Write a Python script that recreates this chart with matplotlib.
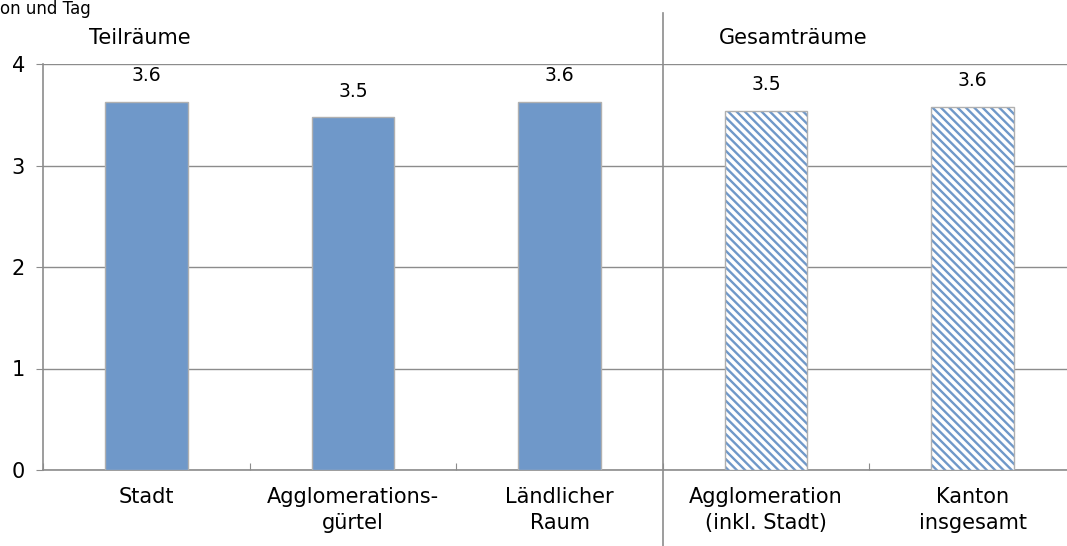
import numpy as np
import matplotlib.pyplot as plt

# data
categories = ["Stadt", "Agglomerations-\ngürtel", "Ländlicher\nRaum",
              "Agglomeration\n(inkl. Stadt)", "Kanton\ninsgesamt"]
values = [3.63, 3.48, 3.63, 3.54, 3.58]
value_labels = ["3.6", "3.5", "3.6", "3.5", "3.6"]
hatched = [False, False, False, True, True]
group_titles = ["Teilräume", "Gesamträume"]

BLUE = "#6f98c9"
GRAY = "#8c8c8c"

plt.rcParams['font.family'] = ['DejaVu Sans']
plt.rcParams['hatch.linewidth'] = 1.7

fig = plt.figure(figsize=(10.67, 5.46), dpi=100)
# right edge of the plot area lies beyond the image, as in the reference
ax = fig.add_axes([43/1067, 1-470/546, (1076-43)/1067, (470-64)/546])

x = np.arange(len(categories))
for xi, v, h in zip(x, values, hatched):
    if h:
        # hatch takes the edge colour, so draw the grey outline separately
        ax.bar(xi, v, width=0.4, facecolor="white", hatch="\\\\\\\\",
               edgecolor=BLUE, linewidth=0, zorder=3)
        ax.bar(xi, v, width=0.4, fill=False, edgecolor="#b0b0b0",
               linewidth=1, zorder=3)
    else:
        ax.bar(xi, v, width=0.4, color=BLUE, edgecolor="#b0b0b0",
               linewidth=1, zorder=3)

for xi, v, lab in zip(x, values, value_labels):
    ax.text(xi, v + 0.16, lab, ha="center", va="bottom", fontsize=13.5)

ax.set_xlim(-0.5, len(categories) - 0.5)
ax.set_ylim(0, 4)
ax.set_yticks([0, 1, 2, 3, 4])
ax.yaxis.grid(True, color=GRAY, linewidth=1)
ax.set_axisbelow(True)
ax.tick_params(axis="y", labelsize=15, length=5, color=GRAY, pad=8)
for s in ["top", "right"]:
    ax.spines[s].set_visible(False)
ax.spines["left"].set_color(GRAY)
ax.spines["bottom"].set_color(GRAY)
ax.spines["left"].set_linewidth(1.2)
ax.spines["bottom"].set_linewidth(1.2)

# category labels without ticks, ticks at the category boundaries
ax.set_xticks(np.arange(-0.5, len(categories)), [""] * (len(categories) + 1))
ax.tick_params(axis="x", length=5, color=GRAY, direction="in")
for xi, c in zip(x, categories):
    ax.text(xi, -0.17, c, ha="center", va="top", fontsize=15,
            linespacing=1.35)

# divider between groups
ax.plot([2.5, 2.5], [-1.3, 4.5], color=GRAY, linewidth=1.2,
        clip_on=False, zorder=4)
ax.text(-0.03, 4.16, group_titles[0], ha="center", va="bottom", fontsize=15)
ax.text(3.13, 4.16, group_titles[1], ha="center", va="bottom", fontsize=15)

# title line, cut off at the top in the reference
fig.text(0.0, 1.0, "on und Tag", ha="left", va="top", fontsize=12)

fig.savefig("out.png", dpi=100)
